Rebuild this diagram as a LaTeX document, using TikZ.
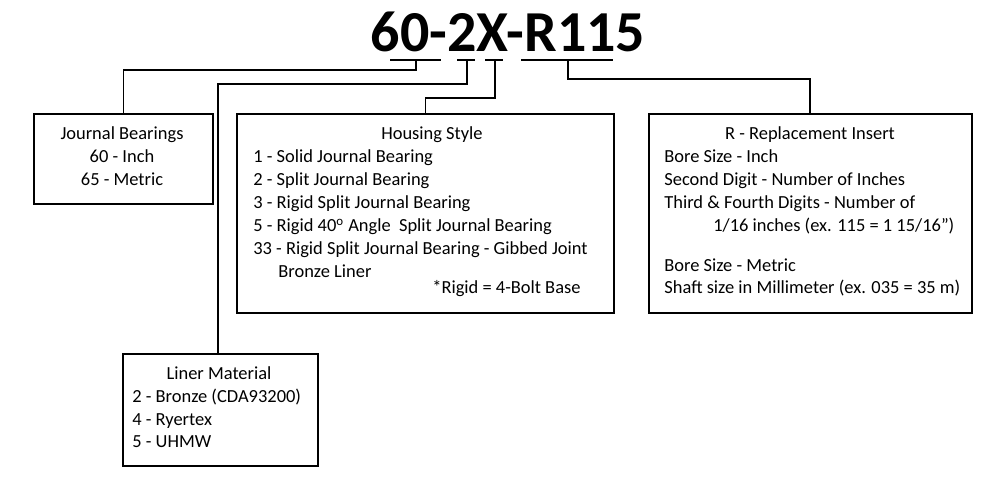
\documentclass[tikz,border=0pt]{standalone}
\usepackage{fontspec}
\setmainfont{Carlito}
\begin{document}
\begin{tikzpicture}[x=0.02cm,y=-0.02cm,
    box/.style={draw,line width=0.9pt},
    txt/.style={anchor=base west,inner sep=0pt,font=\fontsize{10.5pt}{12pt}\selectfont},
    ttl/.style={anchor=base,inner sep=0pt,font=\fontsize{10.5pt}{12pt}\selectfont},
    lnk/.style={line width=0.9pt}]
    \useasboundingbox (0,0) rectangle (1000,479);
    % title and underlines
    \node (title) at (508,52) [anchor=base,inner sep=0pt,font=\bfseries\fontsize{33pt}{36pt}\selectfont] {60-2X-R115};
    \coordinate (u1a) at (390,60); \coordinate (u1b) at (441,60);
    \coordinate (u2a) at (457,60); \coordinate (u2b) at (475,60);
    \coordinate (u3a) at (485,60); \coordinate (u3b) at (503,60);
    \coordinate (u4a) at (521,60); \coordinate (u4b) at (613,60);
    \draw[lnk] (u1a) -- (u1b);
    \draw[lnk] (u2a) -- (u2b);
    \draw[lnk] (u3a) -- (u3b);
    \draw[lnk] (u4a) -- (u4b);
    % boxes
    \node (journal) [box,minimum width=179*0.02cm,minimum height=90*0.02cm,anchor=north west] at (33,113) {};
    \node (housing) [box,minimum width=377*0.02cm,minimum height=199*0.02cm,anchor=north west] at (236,113) {};
    \node (insert) [box,minimum width=323*0.02cm,minimum height=199*0.02cm,anchor=north west] at (648,113) {};
    \node (liner) [box,minimum width=195*0.02cm,minimum height=112*0.02cm,anchor=north west] at (122,353) {};
    % connectors
    \coordinate (c1) at (416,60); \coordinate (c2) at (467,60);
    \coordinate (c3) at (495,60); \coordinate (c4) at (568,60);
    \draw[lnk] (c1) -- (416,70) -| (journal.north);
    \draw[lnk] (c2) -- (467,84) -| (218,353);
    \draw[lnk] (c3) -- (495,98) -| (housing.north);
    \draw[lnk] (c4) -- (568,79) -| (810,113);
    % journal bearings
    \node[ttl] (j1) at (122,140) {Journal Bearings};
    \node[ttl] (j2) at (122,163) {60 - Inch};
    \node[ttl] (j3) at (122,186) {65 - Metric};
    % housing style
    \node[ttl] (h0) at (432,140) {Housing Style};
    \node[txt] (h1) at (253,163) {1 - Solid Journal Bearing};
    \node[txt] (h2) at (253,186) {2 - Split Journal Bearing};
    \node[txt] (h3) at (253,209) {3 - Rigid Split Journal Bearing};
    \node[txt] (h4) at (253,232) {5 - Rigid 40\textsuperscript{o} Angle\ \ Split Journal Bearing};
    \node[txt] (h5) at (253,255) {33 - Rigid Split Journal Bearing - Gibbed Joint};
    \node[txt] (h6) at (278,278) {Bronze Liner};
    \node[txt] (h7) at (432,294) {*Rigid = 4-Bolt Base};
    % replacement insert
    \node[ttl] (r0) at (810,140) {R - Replacement Insert};
    \node[txt] (r1) at (664,163) {Bore Size - Inch};
    \node[txt] (r2) at (664,186) {Second Digit - Number of Inches};
    \node[txt] (r3) at (664,209) {Third \& Fourth Digits - Number of};
    \node[txt] (r4) at (713,232) {1/16 inches (ex. 115 = 1 15/16")};
    \node[txt] (r5) at (664,272) {Bore Size - Metric};
    \node[txt] (r6) at (664,294) {Shaft size in Millimeter (ex. 035 = 35 m)};
    % liner material
    \node[ttl] (l0) at (219,379) {Liner Material};
    \node[txt] (l1) at (132,402) {2 - Bronze (CDA93200)};
    \node[txt] (l2) at (132,425) {4 - Ryertex};
    \node[txt] (l3) at (132,447) {5 - UHMW};
\end{tikzpicture}
\end{document}
